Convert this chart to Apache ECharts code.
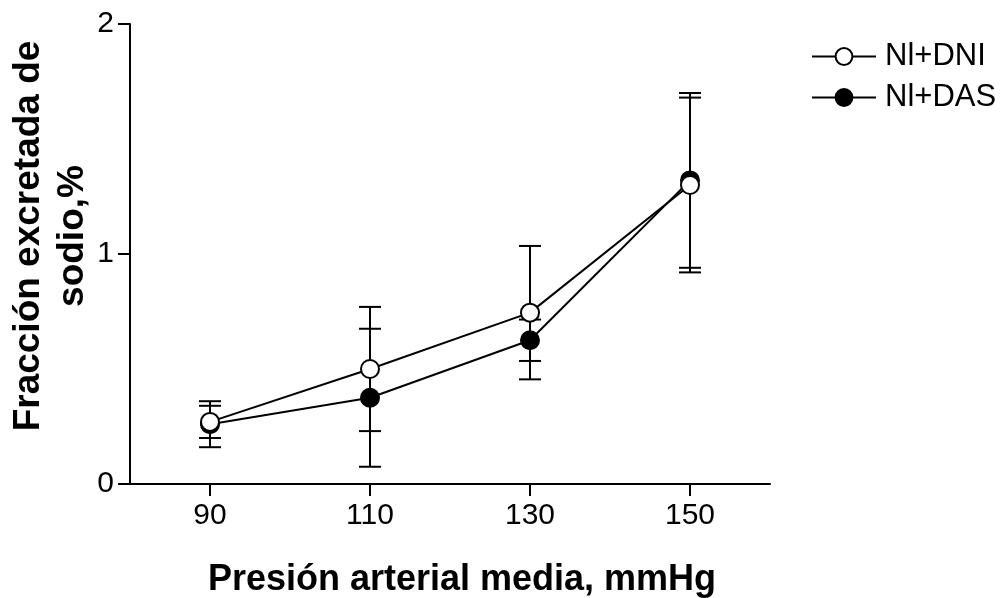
<!DOCTYPE html>
<html>
<head>
<meta charset="utf-8">
<script src="https://cdn.jsdelivr.net/npm/echarts@6/dist/echarts.min.js"></script>
<style>html,body{margin:0;padding:0;background:#fff}#c{width:1006px;height:598px}</style>
</head>
<body>
<div id="c"></div>
<script>
// ---- data ----
var pressure = [90, 110, 130, 150];
var dniMean = [0.27, 0.50, 0.745, 1.30];
var dniErr  = [0.07, 0.27, 0.29, 0.38];
var dasMean = [0.26, 0.375, 0.625, 1.32];
var dasErr  = [0.10, 0.30, 0.09, 0.38];
var xTicks = [90, 110, 130, 150];
var yTicks = [0, 1, 2];
var seriesNames = ['Nl+DNI', 'Nl+DAS'];
var xTitle = 'Presión arterial media, mmHg';
var yTitle = 'Fracción excretada de\nsodio,%';

var FONT = '"Liberation Sans", Arial, sans-serif';

function pts(means) { return pressure.map(function (x, i) { return [x, means[i]]; }); }
function errPts(means, errs) { return pressure.map(function (x, i) { return [x, means[i], errs[i]]; }); }

function renderErr(params, api) {
  var x = api.value(0), m = api.value(1), e = api.value(2);
  var top = api.coord([x, m + e]);
  var bot = api.coord([x, m - e]);
  var hw = 11;
  var st = { stroke: '#000', lineWidth: 2 };
  return {
    type: 'group',
    children: [
      { type: 'line', shape: { x1: top[0], y1: top[1], x2: bot[0], y2: bot[1] }, style: st },
      { type: 'line', shape: { x1: top[0] - hw, y1: top[1], x2: top[0] + hw, y2: top[1] }, style: st },
      { type: 'line', shape: { x1: bot[0] - hw, y1: bot[1], x2: bot[0] + hw, y2: bot[1] }, style: st }
    ]
  };
}

var chart = echarts.init(document.getElementById('c'), null, { renderer: 'canvas' });
chart.setOption({
  animation: false,
  backgroundColor: '#fff',
  grid: { left: 130, right: 236, top: 24, bottom: 114, containLabel: false },
  xAxis: {
    type: 'value', min: 80, max: 160,
    splitLine: { show: false },
    axisLine: { show: true, onZero: false, lineStyle: { color: '#000', width: 2 } },
    axisTick: { show: true, length: 12, customValues: xTicks, lineStyle: { color: '#000', width: 2 } },
    axisLabel: { customValues: xTicks, margin: 17, color: '#000', fontSize: 30, fontFamily: FONT }
  },
  yAxis: {
    type: 'value', min: 0, max: 2, interval: 1,
    splitLine: { show: false },
    axisLine: { show: true, lineStyle: { color: '#000', width: 2 } },
    axisTick: { show: true, length: 12, lineStyle: { color: '#000', width: 2 } },
    axisLabel: { margin: 16, color: '#000', fontSize: 30, fontFamily: FONT, formatter: function (v) { return yTicks.indexOf(v) >= 0 ? String(v) : ''; } }
  },
  legend: {
    orient: 'vertical', left: 806, top: 36,
    itemWidth: 64, itemHeight: 21, itemGap: 10,
    data: [seriesNames[0], seriesNames[1]],
    textStyle: { color: '#000', fontSize: 31, lineHeight: 31, fontFamily: FONT, padding: [0, 0, 0, 4] }
  },
  graphic: [
    { type: 'text', x: 462, y: 580, style: { text: xTitle, font: 'bold 36px ' + FONT, fill: '#000', align: 'center', verticalAlign: 'middle' } },
    { type: 'text', x: 51, y: 236, rotation: Math.PI / 2, style: { text: yTitle, font: 'bold 37px ' + FONT, fill: '#000', align: 'center', verticalAlign: 'middle', lineHeight: 44 } }
  ],
  series: [
    { type: 'custom', name: 'errDAS', renderItem: renderErr, data: errPts(dasMean, dasErr), encode: { x: 0, y: 1 }, z: 1, silent: true },
    { type: 'custom', name: 'errDNI', renderItem: renderErr, data: errPts(dniMean, dniErr), encode: { x: 0, y: 1 }, z: 1, silent: true },
    { type: 'line', name: seriesNames[1], data: pts(dasMean), z: 3,
      symbol: 'circle', symbolSize: 18,
      lineStyle: { color: '#000', width: 2 },
      itemStyle: { color: '#000', borderColor: '#000', borderWidth: 2 } },
    { type: 'line', name: seriesNames[0], data: pts(dniMean), z: 4,
      symbol: 'circle', symbolSize: 18,
      lineStyle: { color: '#000', width: 2 },
      itemStyle: { color: '#fff', borderColor: '#000', borderWidth: 2 } }
  ]
});
</script>
</body>
</html>
